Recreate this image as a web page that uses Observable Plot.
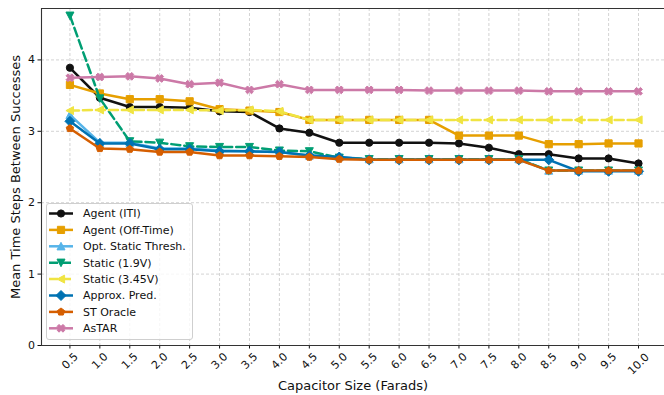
<!DOCTYPE html>
<html><head><meta charset="utf-8">
<script src="https://cdn.jsdelivr.net/npm/d3@7"></script>
<script src="https://cdn.jsdelivr.net/npm/@observablehq/plot@0.6"></script>
<style>
body{margin:0;background:#fff;font-family:"DejaVu Sans",sans-serif}
#wrap{position:relative;width:664px;height:395px;overflow:hidden}
#legend{position:absolute;left:46px;top:203px;width:147px;height:137px;box-sizing:border-box;border:1px solid #cfcfcf;border-radius:3px;background:rgba(255,255,255,0.8)}
</style></head><body><div id="wrap"></div>
<script>
// ---- data ----
const capacitor = [0.5,1.0,1.5,2.0,2.5,3.0,3.5,4.0,4.5,5.0,5.5,6.0,6.5,7.0,7.5,8.0,8.5,9.0,9.5,10.0];
const xTickLabels = ["0.5","1.0","1.5","2.0","2.5","3.0","3.5","4.0","4.5","5.0","5.5","6.0","6.5","7.0","7.5","8.0","8.5","9.0","9.5","10.0"];
const yTicks = [0,1,2,3,4];
const agentITI     = [3.89,3.47,3.34,3.34,3.33,3.28,3.27,3.04,2.98,2.84,2.84,2.84,2.84,2.83,2.77,2.68,2.68,2.62,2.62,2.55];
const agentOffTime = [3.65,3.53,3.45,3.45,3.42,3.31,3.29,3.27,3.16,3.16,3.16,3.16,3.16,2.94,2.94,2.94,2.82,2.82,2.83,2.83];
const optStatic    = [3.23,2.84,2.84,2.76,2.76,2.73,2.72,2.71,2.66,2.64,2.61,2.61,2.61,2.61,2.61,2.61,2.45,2.45,2.45,2.45];
const static19     = [4.62,3.46,2.86,2.84,2.79,2.78,2.78,2.73,2.72,2.63,2.61,2.61,2.61,2.61,2.61,2.61,2.45,2.45,2.45,2.45];
const static345    = [3.29,3.30,3.30,3.30,3.30,3.29,3.30,3.28,3.16,3.16,3.16,3.16,3.16,3.16,3.16,3.16,3.16,3.16,3.16,3.16];
const approxPred   = [3.14,2.83,2.83,2.75,2.75,2.72,2.72,2.71,2.66,2.64,2.60,2.60,2.60,2.60,2.60,2.60,2.60,2.44,2.44,2.44];
const stOracle     = [3.04,2.76,2.75,2.71,2.71,2.66,2.66,2.65,2.64,2.61,2.60,2.60,2.60,2.60,2.60,2.60,2.45,2.45,2.45,2.45];
const asTAR        = [3.75,3.76,3.77,3.74,3.66,3.68,3.58,3.66,3.58,3.58,3.58,3.58,3.57,3.57,3.57,3.57,3.56,3.56,3.56,3.56];
const seriesNames  = ["Agent (ITI)","Agent (Off-Time)","Opt. Static Thresh.","Static (1.9V)","Static (3.45V)","Approx. Pred.","ST Oracle","AsTAR"];
const seriesColors = ["#111111","#E69F00","#56B4E9","#009E73","#F0E442","#0072B2","#D55E00","#CC79A7"];
const xDomain = [0.025, 10.434];
const yDomain = [0, 4.72];

// ---- marker shapes (px, drawn at r=1) ----
function polySym(pts){return {draw(ctx,size){const k=Math.sqrt(size/Math.PI);pts.forEach(([x,y],i)=>i?ctx.lineTo(x*k,y*k):ctx.moveTo(x*k,y*k));ctx.closePath();}};}
const circleSym = {draw(ctx,size){const k=Math.sqrt(size/Math.PI);ctx.moveTo(3.6*k,0);ctx.arc(0,0,3.6*k,0,2*Math.PI);}};
const squareSym = polySym([[-3.6,-3.6],[3.6,-3.6],[3.6,3.6],[-3.6,3.6]]);
const triUp = polySym([[0,-4],[4,3.6],[-4,3.6]]);
const triDown = polySym([[0,4],[4,-3.6],[-4,-3.6]]);
const triLeft = polySym([[-4,0],[3.6,-4],[3.6,4]]);
const diamondSym = polySym([[0,-5],[5,0],[0,5],[-5,0]]);
const pentaSym = polySym(d3.range(5).map(i=>{const a=-Math.PI/2+i*2*Math.PI/5;return [3.9*Math.cos(a),3.9*Math.sin(a)];}));
const xf = 1.95;
const xSym = polySym([[-1,-2],[0,-1],[1,-2],[2,-1],[1,0],[2,1],[1,2],[0,1],[-1,2],[-2,1],[-1,0],[-2,-1]].map(([a,b])=>[a*xf,b*xf]));
const seriesSymbols = [circleSym,squareSym,triUp,triDown,triLeft,diamondSym,pentaSym,xSym];
const seriesDash = [null,null,null,"9,4","9,4",null,null,null];
const seriesValues = [agentITI,agentOffTime,optStatic,static19,static345,approxPred,stOracle,asTAR];

const grid = {stroke:"#c8c8c8", strokeWidth:0.8, strokeDasharray:"3,2"};
const marks = [
  Plot.ruleX(capacitor, grid),
  Plot.ruleY(yTicks, grid)
];
seriesNames.forEach((name,si)=>{
  const data = capacitor.map((c,i)=>({x:c, y:seriesValues[si][i]}));
  marks.push(Plot.line(data,{x:"x",y:"y",stroke:seriesColors[si],strokeWidth:2.5,strokeDasharray:seriesDash[si]||undefined,strokeLinejoin:"round"}));
  marks.push(Plot.dot(data,{x:"x",y:"y",r:1,symbol:seriesSymbols[si],fill:seriesColors[si],stroke:seriesColors[si],strokeWidth:1}));
});
// spines
marks.push(Plot.ruleY([yDomain[1]],{stroke:"#333",strokeWidth:1.1}));
marks.push(Plot.ruleY([yDomain[0]],{stroke:"#333",strokeWidth:1.1}));
marks.push(Plot.ruleX([xDomain[0]],{stroke:"#333",strokeWidth:1.1}));
// rotated x tick labels
const tickIdx = d3.range(capacitor.length);
marks.push(Plot.text(tickIdx.filter(i=>xTickLabels[i].length<4),{x:i=>capacitor[i],text:i=>xTickLabels[i],frameAnchor:"bottom",rotate:-45,dy:15.5,textAnchor:"middle",lineAnchor:"middle",fontSize:11,fill:"#111"}));
marks.push(Plot.text(tickIdx.filter(i=>xTickLabels[i].length>=4),{x:i=>capacitor[i],text:i=>xTickLabels[i],frameAnchor:"bottom",rotate:-45,dy:18.5,textAnchor:"middle",lineAnchor:"middle",fontSize:11,fill:"#111"}));
// axis titles
marks.push(Plot.text(["Capacitor Size (Farads)"],{text:d=>d,frameAnchor:"bottom",dy:40,textAnchor:"middle",lineAnchor:"middle",fontSize:13,fill:"#111"}));
marks.push(Plot.text(["Mean Time Steps Between Successes"],{text:d=>d,frameAnchor:"left",rotate:-90,dx:-26,textAnchor:"middle",lineAnchor:"middle",fontSize:13,fill:"#111"}));

const chart = Plot.plot({
  width:664, height:395,
  marginLeft:41, marginRight:0, marginTop:8, marginBottom:50,
  style:{fontFamily:"DejaVu Sans", fontSize:"11px", background:"white", color:"#111", overflow:"hidden"},
  x:{domain:xDomain, ticks:capacitor, tickSize:3.5, tickFormat:()=>"", label:null},
  y:{domain:yDomain, ticks:yTicks, tickSize:3.5, tickPadding:3, tickFormat:d=>String(d), label:null},
  marks
});
const wrap = document.getElementById("wrap");
wrap.appendChild(chart);

// legend overlay
const leg = d3.select(wrap).append("div").attr("id","legend");
const lsvg = leg.append("svg").attr("width",146).attr("height",136).style("position","absolute").style("left","-1px").style("top","-1px");
seriesNames.forEach((name,i)=>{
  const y = 10.5 + i*16.4;
  const g = lsvg.append("g").attr("transform",`translate(0,${y})`);
  g.append("line").attr("x1",3).attr("x2",27).attr("y1",0).attr("y2",0)
    .attr("stroke",seriesColors[i]).attr("stroke-width",2.5).attr("stroke-dasharray",seriesDash[i]||null);
  g.append("path").attr("d",d3.symbol().type(seriesSymbols[i]).size(Math.PI)()).attr("transform","translate(15,0)")
    .attr("fill",seriesColors[i]).attr("stroke",seriesColors[i]).attr("stroke-width",1);
  g.append("text").attr("x",37).attr("y",0).attr("dy","0.35em").attr("font-size",11).attr("font-family","DejaVu Sans").attr("fill","#111").text(name);
});
</script></body></html>
